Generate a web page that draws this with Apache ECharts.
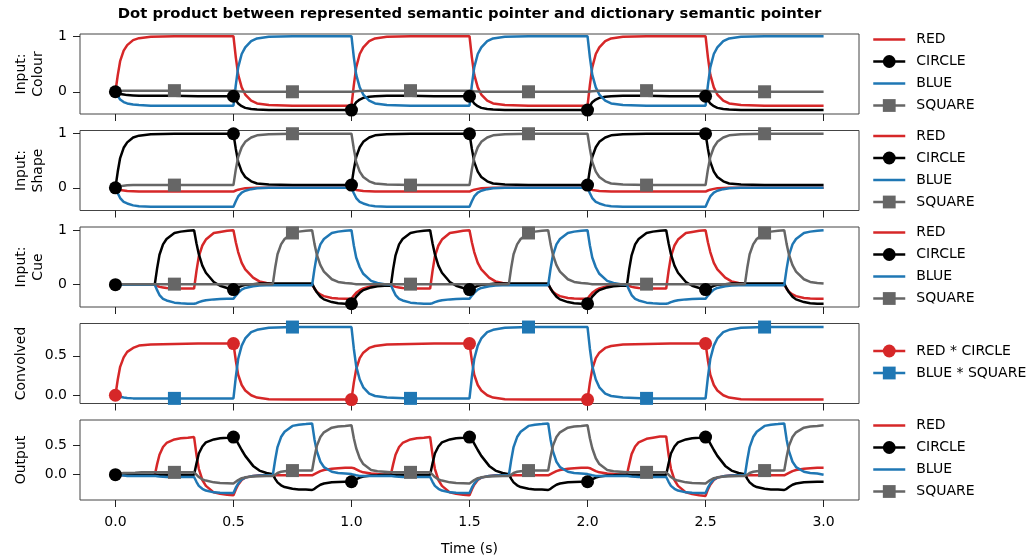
<!DOCTYPE html>
<html>
<head>
<meta charset="utf-8">
<script src="https://cdn.jsdelivr.net/npm/echarts@6/dist/echarts.min.js"></script>
<style>
html,body{margin:0;padding:0;background:#fff;}
#chart{width:1034px;height:557px;}
</style>
</head>
<body>
<div id="chart"></div>
<script>
// ---------- sample times ----------
const timesA = [
 0, 0.01, 0.02, 0.035, 0.05, 0.075, 0.1, 0.15, 0.25, 0.35,
 0.5, 0.51, 0.52, 0.535, 0.55, 0.575, 0.6, 0.65, 0.75, 0.85,
 1, 1.01, 1.02, 1.035, 1.05, 1.075, 1.1, 1.15, 1.25, 1.35,
 1.5, 1.51, 1.52, 1.535, 1.55, 1.575, 1.6, 1.65, 1.75, 1.85,
 2, 2.01, 2.02, 2.035, 2.05, 2.075, 2.1, 2.15, 2.25, 2.35,
 2.5, 2.51, 2.52, 2.535, 2.55, 2.575, 2.6, 2.65, 2.75, 2.85,
 3];

const timesB = [
 0, 0.01, 0.02, 0.035, 0.05, 0.0833, 0.11, 0.14,
 0.1667, 0.1767, 0.1867, 0.2017, 0.2167, 0.25, 0.2767, 0.3067,
 0.3333, 0.3433, 0.3533, 0.3683, 0.3833, 0.4167, 0.4433, 0.4733,
 0.5, 0.51, 0.52, 0.535, 0.55, 0.5833, 0.61, 0.64,
 0.6667, 0.6767, 0.6867, 0.7017, 0.7167, 0.75, 0.7767, 0.8067,
 0.8333, 0.8433, 0.8533, 0.8683, 0.8833, 0.9167, 0.9433, 0.9733,
 1, 1.01, 1.02, 1.035, 1.05, 1.0833, 1.11, 1.14,
 1.1667, 1.1767, 1.1867, 1.2017, 1.2167, 1.25, 1.2767, 1.3067,
 1.3333, 1.3433, 1.3533, 1.3683, 1.3833, 1.4167, 1.4433, 1.4733,
 1.5, 1.51, 1.52, 1.535, 1.55, 1.5833, 1.61, 1.64,
 1.6667, 1.6767, 1.6867, 1.7017, 1.7167, 1.75, 1.7767, 1.8067,
 1.8333, 1.8433, 1.8533, 1.8683, 1.8833, 1.9167, 1.9433, 1.9733,
 2, 2.01, 2.02, 2.035, 2.05, 2.0833, 2.11, 2.14,
 2.1667, 2.1767, 2.1867, 2.2017, 2.2167, 2.25, 2.2767, 2.3067,
 2.3333, 2.3433, 2.3533, 2.3683, 2.3833, 2.4167, 2.4433, 2.4733,
 2.5, 2.51, 2.52, 2.535, 2.55, 2.5833, 2.61, 2.64,
 2.6667, 2.6767, 2.6867, 2.7017, 2.7167, 2.75, 2.7767, 2.8067,
 2.8333, 2.8433, 2.8533, 2.8683, 2.8833, 2.9167, 2.9433, 2.9733,
 3];

// ---------- tick labels ----------
const xTicks = [0, 0.5, 1, 1.5, 2, 2.5, 3];
const yTicksInput = [0, 1];
const yTicksSmall = [0, 0.5];

// ---------- Panel 1: Input: Colour (timesA) ----------
const colourRed = [
 0, 0.3, 0.55, 0.74, 0.84, 0.93, 0.965, 0.99, 1, 1,
 1, 0.62, 0.31, 0.08, -0.05, -0.16, -0.21, -0.24, -0.25, -0.25,
 -0.25, 0.12, 0.44, 0.68, 0.8, 0.91, 0.96, 0.99, 1, 1,
 1, 0.62, 0.31, 0.08, -0.05, -0.16, -0.21, -0.24, -0.25, -0.25,
 -0.25, 0.12, 0.44, 0.68, 0.8, 0.91, 0.96, 0.99, 1, 1,
 1, 0.62, 0.31, 0.08, -0.05, -0.16, -0.21, -0.24, -0.25, -0.25,
 -0.25];
const colourCircle = [
 0, -0.02, -0.04, -0.05, -0.06, -0.065, -0.07, -0.07, -0.07, -0.08,
 -0.08, -0.15, -0.21, -0.26, -0.29, -0.31, -0.32, -0.33, -0.33, -0.33,
 -0.33, -0.25, -0.19, -0.14, -0.11, -0.09, -0.08, -0.07, -0.07, -0.08,
 -0.08, -0.15, -0.21, -0.26, -0.29, -0.31, -0.32, -0.33, -0.33, -0.33,
 -0.33, -0.25, -0.19, -0.14, -0.11, -0.09, -0.08, -0.07, -0.07, -0.08,
 -0.08, -0.15, -0.21, -0.26, -0.29, -0.31, -0.32, -0.33, -0.33, -0.33,
 -0.33];
const colourBlue = [
 0, -0.07, -0.14, -0.185, -0.21, -0.23, -0.24, -0.25, -0.25, -0.25,
 -0.25, 0.12, 0.44, 0.68, 0.8, 0.91, 0.96, 0.99, 1, 1,
 1, 0.62, 0.31, 0.08, -0.05, -0.16, -0.21, -0.24, -0.25, -0.25,
 -0.25, 0.12, 0.44, 0.68, 0.8, 0.91, 0.96, 0.99, 1, 1,
 1, 0.62, 0.31, 0.08, -0.05, -0.16, -0.21, -0.24, -0.25, -0.25,
 -0.25, 0.12, 0.44, 0.68, 0.8, 0.91, 0.96, 0.99, 1, 1,
 1];
const colourSquare = [
 0, 0.01, 0.015, 0.02, 0.02, 0.02, 0.02, 0.02, 0.02, 0.02,
 0.02, 0.015, 0.01, 0.005, 0, 0, 0, 0, 0, 0,
 0, 0.005, 0.01, 0.015, 0.02, 0.02, 0.02, 0.02, 0.02, 0.02,
 0.02, 0.015, 0.01, 0.005, 0, 0, 0, 0, 0, 0,
 0, 0.005, 0.01, 0.015, 0.02, 0.02, 0.02, 0.02, 0.02, 0.02,
 0.02, 0.015, 0.01, 0.005, 0, 0, 0, 0, 0, 0,
 0];

// ---------- Panel 2: Input: Shape (timesA) ----------
const shapeRed = [
 0, -0.02, -0.04, -0.05, -0.06, -0.065, -0.07, -0.07, -0.07, -0.07,
 -0.07, -0.05, -0.035, -0.02, -0.01, -0.005, 0, 0, 0, 0,
 0, -0.02, -0.04, -0.05, -0.06, -0.065, -0.07, -0.07, -0.07, -0.07,
 -0.07, -0.05, -0.035, -0.02, -0.01, -0.005, 0, 0, 0, 0,
 0, -0.02, -0.04, -0.05, -0.06, -0.065, -0.07, -0.07, -0.07, -0.07,
 -0.07, -0.05, -0.035, -0.02, -0.01, -0.005, 0, 0, 0, 0,
 0];
const shapeCircle = [
 0, 0.3, 0.55, 0.74, 0.84, 0.93, 0.965, 0.99, 1, 1,
 1, 0.72, 0.48, 0.3, 0.2, 0.12, 0.08, 0.06, 0.05, 0.05,
 0.05, 0.34, 0.57, 0.75, 0.85, 0.93, 0.97, 0.99, 1, 1,
 1, 0.72, 0.48, 0.3, 0.2, 0.12, 0.08, 0.06, 0.05, 0.05,
 0.05, 0.34, 0.57, 0.75, 0.85, 0.93, 0.97, 0.99, 1, 1,
 1, 0.72, 0.48, 0.3, 0.2, 0.12, 0.08, 0.06, 0.05, 0.05,
 0.05];
const shapeBlue = [
 0, -0.1, -0.19, -0.26, -0.29, -0.325, -0.34, -0.35, -0.35, -0.35,
 -0.35, -0.25, -0.16, -0.09, -0.055, -0.025, -0.01, 0, 0, 0,
 0, -0.1, -0.19, -0.26, -0.29, -0.325, -0.34, -0.35, -0.35, -0.35,
 -0.35, -0.25, -0.16, -0.09, -0.055, -0.025, -0.01, 0, 0, 0,
 0, -0.1, -0.19, -0.26, -0.29, -0.325, -0.34, -0.35, -0.35, -0.35,
 -0.35, -0.25, -0.16, -0.09, -0.055, -0.025, -0.01, 0, 0, 0,
 0];
const shapeSquare = [
 0, 0.015, 0.03, 0.04, 0.045, 0.05, 0.05, 0.05, 0.05, 0.05,
 0.05, 0.34, 0.57, 0.75, 0.85, 0.93, 0.97, 0.99, 1, 1,
 1, 0.72, 0.48, 0.3, 0.2, 0.12, 0.08, 0.06, 0.05, 0.05,
 0.05, 0.34, 0.57, 0.75, 0.85, 0.93, 0.97, 0.99, 1, 1,
 1, 0.72, 0.48, 0.3, 0.2, 0.12, 0.08, 0.06, 0.05, 0.05,
 0.05, 0.34, 0.57, 0.75, 0.85, 0.93, 0.97, 0.99, 1, 1,
 1];

// ---------- Panel 3: Input: Cue (timesB) ----------
const cueRed = [
 0, 0, 0, 0, 0, 0, 0, 0,
 0, -0.02, -0.04, -0.05, -0.06, -0.065, -0.07, -0.07,
 -0.07, 0.25, 0.52, 0.72, 0.83, 0.95, 0.97, 0.99,
 1, 0.78, 0.6, 0.4, 0.28, 0.13, 0.06, 0.03,
 0.01, 0.005, 0, 0, 0, 0, 0, 0,
 0, -0.07, -0.13, -0.18, -0.21, -0.245, -0.255, -0.26,
 -0.26, -0.2, -0.15, -0.1, -0.07, -0.03, -0.015, -0.01,
 0, -0.02, -0.04, -0.05, -0.06, -0.065, -0.07, -0.07,
 -0.07, 0.25, 0.52, 0.72, 0.83, 0.95, 0.97, 0.99,
 1, 0.78, 0.6, 0.4, 0.28, 0.13, 0.06, 0.03,
 0.01, 0.005, 0, 0, 0, 0, 0, 0,
 0, -0.07, -0.13, -0.18, -0.21, -0.245, -0.255, -0.26,
 -0.26, -0.2, -0.15, -0.1, -0.07, -0.03, -0.015, -0.01,
 0, -0.02, -0.04, -0.05, -0.06, -0.065, -0.07, -0.07,
 -0.07, 0.25, 0.52, 0.72, 0.83, 0.95, 0.97, 0.99,
 1, 0.78, 0.6, 0.4, 0.28, 0.13, 0.06, 0.03,
 0.01, 0.005, 0, 0, 0, 0, 0, 0,
 0, -0.07, -0.13, -0.18, -0.21, -0.245, -0.255, -0.26,
 -0.26];
const cueCircle = [
 0, 0, 0, 0, 0, 0, 0, 0,
 0, 0.3, 0.55, 0.74, 0.84, 0.95, 0.975, 0.99,
 1, 0.76, 0.56, 0.35, 0.22, 0.05, -0.02, -0.06,
 -0.09, -0.07, -0.05, -0.02, 0, 0.01, 0.02, 0.02,
 0.02, 0.02, 0.02, 0.02, 0.02, 0.02, 0.02, 0.02,
 0.02, -0.07, -0.14, -0.22, -0.27, -0.32, -0.34, -0.35,
 -0.35, -0.29, -0.22, -0.15, -0.1, -0.05, -0.03, -0.02,
 -0.02, 0.29, 0.54, 0.74, 0.84, 0.95, 0.975, 0.99,
 1, 0.76, 0.56, 0.35, 0.22, 0.05, -0.02, -0.06,
 -0.09, -0.07, -0.05, -0.02, 0, 0.01, 0.02, 0.02,
 0.02, 0.02, 0.02, 0.02, 0.02, 0.02, 0.02, 0.02,
 0.02, -0.07, -0.14, -0.22, -0.27, -0.32, -0.34, -0.35,
 -0.35, -0.29, -0.22, -0.15, -0.1, -0.05, -0.03, -0.02,
 -0.02, 0.29, 0.54, 0.74, 0.84, 0.95, 0.975, 0.99,
 1, 0.76, 0.56, 0.35, 0.22, 0.05, -0.02, -0.06,
 -0.09, -0.07, -0.05, -0.02, 0, 0.01, 0.02, 0.02,
 0.02, 0.02, 0.02, 0.02, 0.02, 0.02, 0.02, 0.02,
 0.02, -0.07, -0.14, -0.22, -0.27, -0.32, -0.34, -0.35,
 -0.35];
const cueBlue = [
 0, 0, 0, 0, 0, 0, 0, 0,
 0, -0.1, -0.19, -0.26, -0.29, -0.33, -0.34, -0.35,
 -0.35, -0.34, -0.32, -0.3, -0.285, -0.27, -0.265, -0.26,
 -0.26, -0.2, -0.15, -0.09, -0.06, -0.03, -0.015, -0.01,
 -0.01, -0.01, -0.01, -0.01, -0.01, -0.01, -0.01, -0.01,
 -0.01, 0.29, 0.54, 0.74, 0.84, 0.95, 0.975, 0.99,
 1, 0.72, 0.5, 0.32, 0.2, 0.07, 0.03, 0.01,
 0, -0.1, -0.19, -0.26, -0.29, -0.33, -0.34, -0.35,
 -0.35, -0.34, -0.32, -0.3, -0.285, -0.27, -0.265, -0.26,
 -0.26, -0.2, -0.15, -0.09, -0.06, -0.03, -0.015, -0.01,
 -0.01, -0.01, -0.01, -0.01, -0.01, -0.01, -0.01, -0.01,
 -0.01, 0.29, 0.54, 0.74, 0.84, 0.95, 0.975, 0.99,
 1, 0.72, 0.5, 0.32, 0.2, 0.07, 0.03, 0.01,
 0, -0.1, -0.19, -0.26, -0.29, -0.33, -0.34, -0.35,
 -0.35, -0.34, -0.32, -0.3, -0.285, -0.27, -0.265, -0.26,
 -0.26, -0.2, -0.15, -0.09, -0.06, -0.03, -0.015, -0.01,
 -0.01, -0.01, -0.01, -0.01, -0.01, -0.01, -0.01, -0.01,
 -0.01, 0.29, 0.54, 0.74, 0.84, 0.95, 0.975, 0.99,
 1];
const cueSquare = [
 0, 0.003, 0.006, 0.01, 0.01, 0.01, 0.01, 0.01,
 0.01, 0.01, 0.01, 0.01, 0.01, 0.01, 0.01, 0.01,
 0.01, 0.01, 0.01, 0.01, 0.01, 0.01, 0.01, 0.01,
 0.01, 0.01, 0.01, 0.01, 0.01, 0.01, 0.01, 0.01,
 0.01, 0.31, 0.56, 0.74, 0.84, 0.95, 0.975, 0.99,
 1, 0.75, 0.55, 0.36, 0.24, 0.1, 0.05, 0.03,
 0.02, 0.015, 0.01, 0.01, 0.01, 0.01, 0.01, 0.01,
 0.01, 0.01, 0.01, 0.01, 0.01, 0.01, 0.01, 0.01,
 0.01, 0.01, 0.01, 0.01, 0.01, 0.01, 0.01, 0.01,
 0.01, 0.01, 0.01, 0.01, 0.01, 0.01, 0.01, 0.01,
 0.01, 0.31, 0.56, 0.74, 0.84, 0.95, 0.975, 0.99,
 1, 0.75, 0.55, 0.36, 0.24, 0.1, 0.05, 0.03,
 0.02, 0.015, 0.01, 0.01, 0.01, 0.01, 0.01, 0.01,
 0.01, 0.01, 0.01, 0.01, 0.01, 0.01, 0.01, 0.01,
 0.01, 0.01, 0.01, 0.01, 0.01, 0.01, 0.01, 0.01,
 0.01, 0.01, 0.01, 0.01, 0.01, 0.01, 0.01, 0.01,
 0.01, 0.31, 0.56, 0.74, 0.84, 0.95, 0.975, 0.99,
 1, 0.75, 0.55, 0.36, 0.24, 0.1, 0.05, 0.03,
 0.02];

// ---------- Panel 4: Convolved (timesA) ----------
const convRedCircle = [
 0, 0.2, 0.36, 0.48, 0.55, 0.6, 0.63, 0.645, 0.65, 0.655,
 0.655, 0.44, 0.26, 0.13, 0.06, 0, -0.03, -0.05, -0.055, -0.055,
 -0.055, 0.16, 0.33, 0.47, 0.54, 0.6, 0.625, 0.645, 0.65, 0.655,
 0.655, 0.44, 0.26, 0.13, 0.06, 0, -0.03, -0.05, -0.055, -0.055,
 -0.055, 0.16, 0.33, 0.47, 0.54, 0.6, 0.625, 0.645, 0.65, 0.655,
 0.655, 0.44, 0.26, 0.13, 0.06, 0, -0.03, -0.05, -0.055, -0.055,
 -0.055];
const convBlueSquare = [
 0, -0.01, -0.02, -0.03, -0.035, -0.04, -0.04, -0.04, -0.04, -0.04,
 -0.04, 0.23, 0.46, 0.63, 0.72, 0.8, 0.83, 0.855, 0.865, 0.865,
 0.865, 0.59, 0.37, 0.2, 0.1, 0.02, -0.01, -0.03, -0.04, -0.04,
 -0.04, 0.23, 0.46, 0.63, 0.72, 0.8, 0.83, 0.855, 0.865, 0.865,
 0.865, 0.59, 0.37, 0.2, 0.1, 0.02, -0.01, -0.03, -0.04, -0.04,
 -0.04, 0.23, 0.46, 0.63, 0.72, 0.8, 0.83, 0.855, 0.865, 0.865,
 0.865];

// ---------- Panel 5: Output (timesB) ----------
const outRed = [
 0, 0, -0.005, -0.01, -0.01, -0.01, -0.01, -0.01,
 -0.01, 0.18, 0.34, 0.47, 0.54, 0.6, 0.62, 0.63,
 0.64, 0.34, 0.1, -0.09, -0.19, -0.3, -0.325, -0.34,
 -0.35, -0.25, -0.17, -0.09, -0.05, -0.02, -0.01, -0.01,
 -0.01, -0.01, -0.01, -0.01, -0.01, -0.01, -0.01, -0.01,
 -0.01, 0.01, 0.03, 0.06, 0.08, 0.1, 0.11, 0.12,
 0.12, 0.11, 0.09, 0.06, 0.04, 0.02, 0.01, 0,
 0, 0.18, 0.34, 0.47, 0.54, 0.6, 0.62, 0.63,
 0.64, 0.34, 0.1, -0.09, -0.19, -0.3, -0.325, -0.34,
 -0.35, -0.25, -0.17, -0.09, -0.05, -0.02, -0.01, -0.01,
 -0.01, -0.01, -0.01, -0.01, -0.01, -0.01, -0.01, -0.01,
 -0.01, 0.01, 0.03, 0.06, 0.08, 0.1, 0.11, 0.12,
 0.12, 0.11, 0.09, 0.06, 0.04, 0.02, 0.01, 0,
 0, 0.18, 0.35, 0.48, 0.55, 0.61, 0.63, 0.65,
 0.65, 0.34, 0.1, -0.09, -0.19, -0.3, -0.33, -0.35,
 -0.36, -0.25, -0.17, -0.09, -0.05, -0.02, -0.01, -0.01,
 -0.01, -0.01, -0.01, -0.01, -0.01, -0.01, -0.01, -0.01,
 -0.01, 0.01, 0.03, 0.06, 0.08, 0.1, 0.11, 0.12,
 0.12];
const outCircle = [
 0, 0, 0, 0, 0, 0, 0, 0,
 0, 0, 0, 0, 0, 0, 0, 0,
 0, 0.19, 0.36, 0.48, 0.55, 0.6, 0.62, 0.63,
 0.64, 0.6, 0.53, 0.42, 0.32, 0.15, 0.07, 0.03,
 0.01, -0.07, -0.13, -0.18, -0.21, -0.24, -0.25, -0.25,
 -0.26, -0.24, -0.21, -0.17, -0.15, -0.13, -0.125, -0.12,
 -0.12, -0.1, -0.08, -0.05, -0.03, -0.015, -0.01, 0,
 0, 0, 0, 0, 0, 0, 0, 0,
 0, 0.19, 0.36, 0.48, 0.55, 0.6, 0.62, 0.63,
 0.64, 0.6, 0.53, 0.42, 0.32, 0.15, 0.07, 0.03,
 0.01, -0.07, -0.13, -0.18, -0.21, -0.24, -0.25, -0.25,
 -0.26, -0.24, -0.21, -0.17, -0.15, -0.13, -0.125, -0.12,
 -0.12, -0.1, -0.08, -0.05, -0.03, -0.015, -0.01, 0,
 0, 0, 0, 0, 0, 0, 0, 0,
 0, 0.19, 0.36, 0.48, 0.55, 0.6, 0.62, 0.63,
 0.64, 0.6, 0.53, 0.42, 0.32, 0.15, 0.07, 0.03,
 0.01, -0.07, -0.13, -0.18, -0.21, -0.24, -0.25, -0.25,
 -0.26, -0.24, -0.21, -0.17, -0.15, -0.13, -0.125, -0.12,
 -0.12];
const outBlue = [
 0, -0.005, -0.01, -0.015, -0.02, -0.02, -0.02, -0.02,
 -0.02, -0.025, -0.03, -0.035, -0.04, -0.04, -0.04, -0.04,
 -0.04, -0.12, -0.19, -0.24, -0.27, -0.3, -0.305, -0.31,
 -0.31, -0.22, -0.15, -0.08, -0.05, -0.02, -0.015, -0.01,
 -0.01, 0.25, 0.47, 0.64, 0.73, 0.83, 0.85, 0.86,
 0.87, 0.6, 0.4, 0.22, 0.13, 0.05, 0.03, 0.02,
 0.01, 0, -0.01, -0.02, -0.02, -0.02, -0.02, -0.02,
 -0.02, -0.025, -0.03, -0.035, -0.04, -0.04, -0.04, -0.04,
 -0.04, -0.12, -0.19, -0.24, -0.27, -0.3, -0.305, -0.31,
 -0.31, -0.22, -0.15, -0.08, -0.05, -0.02, -0.015, -0.01,
 -0.01, 0.25, 0.47, 0.64, 0.73, 0.83, 0.85, 0.86,
 0.87, 0.6, 0.4, 0.22, 0.13, 0.05, 0.03, 0.02,
 0.01, 0, -0.01, -0.02, -0.02, -0.02, -0.02, -0.02,
 -0.02, -0.025, -0.03, -0.035, -0.04, -0.04, -0.04, -0.04,
 -0.04, -0.12, -0.19, -0.24, -0.27, -0.3, -0.305, -0.31,
 -0.31, -0.22, -0.15, -0.08, -0.05, -0.02, -0.015, -0.01,
 -0.01, 0.25, 0.47, 0.64, 0.73, 0.83, 0.85, 0.86,
 0.87, 0.6, 0.4, 0.22, 0.13, 0.05, 0.03, 0.02,
 0];
const outSquare = [
 0, 0.01, 0.02, 0.03, 0.03, 0.035, 0.04, 0.04,
 0.04, 0.04, 0.04, 0.04, 0.04, 0.04, 0.04, 0.04,
 0.04, 0, -0.04, -0.08, -0.1, -0.13, -0.14, -0.145,
 -0.15, -0.12, -0.09, -0.06, -0.045, -0.03, -0.025, -0.02,
 -0.02, 0, 0.03, 0.05, 0.06, 0.07, 0.07, 0.07,
 0.07, 0.3, 0.49, 0.64, 0.72, 0.8, 0.82, 0.83,
 0.84, 0.62, 0.45, 0.28, 0.18, 0.08, 0.06, 0.05,
 0.04, 0.04, 0.04, 0.04, 0.04, 0.04, 0.04, 0.04,
 0.04, 0, -0.04, -0.08, -0.1, -0.13, -0.14, -0.145,
 -0.15, -0.12, -0.09, -0.06, -0.045, -0.03, -0.025, -0.02,
 -0.02, 0, 0.03, 0.05, 0.06, 0.07, 0.07, 0.07,
 0.07, 0.3, 0.49, 0.64, 0.72, 0.8, 0.82, 0.83,
 0.84, 0.62, 0.45, 0.28, 0.18, 0.08, 0.06, 0.05,
 0.04, 0.04, 0.04, 0.04, 0.04, 0.04, 0.04, 0.04,
 0.04, 0, -0.04, -0.08, -0.1, -0.13, -0.14, -0.145,
 -0.15, -0.12, -0.09, -0.06, -0.045, -0.03, -0.025, -0.02,
 -0.02, 0, 0.03, 0.05, 0.06, 0.07, 0.07, 0.07,
 0.07, 0.3, 0.49, 0.64, 0.72, 0.8, 0.82, 0.83,
 0.84];

// ---------- styling / layout ----------
const FONT = 'DejaVu Sans';
const C_RED = '#d62728', C_BLACK = '#000000', C_BLUE = '#1f77b4', C_GRAY = '#666666';
const panelTop = [34, 130.5, 227, 323.5, 420];
const panelH = 80;
const plotLeft = 80, plotW = 779;
const yRanges = [[-0.40, 1.04], [-0.42, 1.06], [-0.41, 1.06], [-0.105, 0.91], [-0.43, 0.93]];
const yNames = ['Input:\nColour', 'Input:\nShape', 'Input:\nCue', 'Convolved', 'Output'];
const yNameGap = [33, 33, 33, 50, 50];

function isCircleT(t) { return t < 2.999 && Math.abs(t * 2 - Math.round(t * 2)) < 1e-4; }
function isSquareT(t) { const u = t - 0.25; return t < 2.999 && Math.abs(u * 2 - Math.round(u * 2)) < 1e-4; }
function pts(times, vals) { return times.map((t, i) => [t, vals[i]]); }

function line(name, gi, times, vals, color, mark) {
  const s = {
    type: 'line', name: name, xAxisIndex: gi, yAxisIndex: gi,
    data: pts(times, vals),
    lineStyle: { color: color, width: 2.5 },
    itemStyle: { color: color },
    emphasis: { disabled: true },
    animation: false,
    clip: true
  };
  if (mark === 'circle' || mark === 'square') {
    s.symbol = mark === 'circle' ? 'circle' : 'rect';
    s.showSymbol = true;
    const test = mark === 'circle' ? isCircleT : isSquareT;
    s.symbolSize = function (v) { return test(v[0]) ? 13 : 0; };
  } else {
    s.symbol = 'none';
    s.showSymbol = false;
  }
  return s;
}

const grids = [], xAxes = [], yAxes = [], legends = [];
for (let i = 0; i < 5; i++) {
  grids.push({ left: plotLeft, top: panelTop[i], width: plotW, height: panelH,
    show: true, borderColor: '#444', borderWidth: 1, backgroundColor: 'transparent' });
  xAxes.push({
    type: 'value', gridIndex: i, min: -0.15, max: 3.15, position: 'bottom',
    axisLine: { show: false, onZero: false }, splitLine: { show: false },
    axisTick: { show: true, customValues: xTicks, length: 7, lineStyle: { color: '#222', width: 1 } },
    axisLabel: { show: i === 4, customValues: xTicks, formatter: v => Number(v).toFixed(1),
      fontSize: 14, color: '#000', fontFamily: FONT, margin: 15 },
    name: i === 4 ? 'Time (s)' : '', nameLocation: 'middle', nameGap: 42,
    nameTextStyle: { fontSize: 14, color: '#000', fontFamily: FONT }
  });
  const yt = i < 3 ? yTicksInput : yTicksSmall;
  yAxes.push({
    type: 'value', gridIndex: i, min: yRanges[i][0], max: yRanges[i][1], position: 'left',
    axisLine: { show: false, onZero: false }, splitLine: { show: false },
    axisTick: { show: true, customValues: yt, length: 7, lineStyle: { color: '#222', width: 1 } },
    axisLabel: { customValues: yt, formatter: v => (i < 3 ? String(Math.round(v)) : Number(v).toFixed(1)),
      fontSize: 14, color: '#000', fontFamily: FONT, margin: 13 },
    name: yNames[i], nameLocation: 'middle', nameGap: yNameGap[i], nameRotate: 90,
    nameTextStyle: { fontSize: 14, color: '#000', fontFamily: FONT, lineHeight: 17 }
  });
}

function legendFor(gi, items) {
  const rowH = 16, gap = 6;
  const h = items.length * rowH + (items.length - 1) * gap;
  const cy = panelTop[gi] + panelH / 2 - 1.5;
  return {
    orient: 'vertical', left: 872, top: cy - h / 2, padding: 0,
    itemWidth: 32, itemHeight: rowH, itemGap: gap, selectedMode: false,
    lineStyle: { width: 2.5 },
    textStyle: { fontSize: 14, color: '#000', fontFamily: FONT, lineHeight: 16, padding: [0, 0, 0, 6] },
    data: items
  };
}
const fourItems = [
  { name: 'RED', itemStyle: { opacity: 0 } },
  { name: 'CIRCLE' },
  { name: 'BLUE', itemStyle: { opacity: 0 } },
  { name: 'SQUARE' }
];
[0, 1, 2, 4].forEach(gi => legends.push(legendFor(gi, fourItems)));
legends.push(legendFor(3, [{ name: 'RED * CIRCLE' }, { name: 'BLUE * SQUARE' }]));

const series = [
  line('RED', 0, timesA, colourRed, C_RED),
  line('CIRCLE', 0, timesA, colourCircle, C_BLACK, 'circle'),
  line('BLUE', 0, timesA, colourBlue, C_BLUE),
  line('SQUARE', 0, timesA, colourSquare, C_GRAY, 'square'),

  line('RED', 1, timesA, shapeRed, C_RED),
  line('CIRCLE', 1, timesA, shapeCircle, C_BLACK, 'circle'),
  line('BLUE', 1, timesA, shapeBlue, C_BLUE),
  line('SQUARE', 1, timesA, shapeSquare, C_GRAY, 'square'),

  line('RED', 2, timesB, cueRed, C_RED),
  line('CIRCLE', 2, timesB, cueCircle, C_BLACK, 'circle'),
  line('BLUE', 2, timesB, cueBlue, C_BLUE),
  line('SQUARE', 2, timesB, cueSquare, C_GRAY, 'square'),

  line('RED * CIRCLE', 3, timesA, convRedCircle, C_RED, 'circle'),
  line('BLUE * SQUARE', 3, timesA, convBlueSquare, C_BLUE, 'square'),

  line('RED', 4, timesB, outRed, C_RED),
  line('CIRCLE', 4, timesB, outCircle, C_BLACK, 'circle'),
  line('BLUE', 4, timesB, outBlue, C_BLUE),
  line('SQUARE', 4, timesB, outSquare, C_GRAY, 'square')
];

const chart = echarts.init(document.getElementById('chart'), null, { renderer: 'canvas' });
chart.setOption({
  animation: false,
  backgroundColor: '#ffffff',
  textStyle: { fontFamily: FONT },
  graphic: [{
    type: 'text', x: plotLeft + plotW / 2, y: 14,
    style: { text: 'Dot product between represented semantic pointer and dictionary semantic pointer',
      font: 'bold 14.8px "DejaVu Sans"', fill: '#000', align: 'center', verticalAlign: 'middle' }
  }],
  grid: grids, xAxis: xAxes, yAxis: yAxes, legend: legends, series: series
});
</script>
</body>
</html>
